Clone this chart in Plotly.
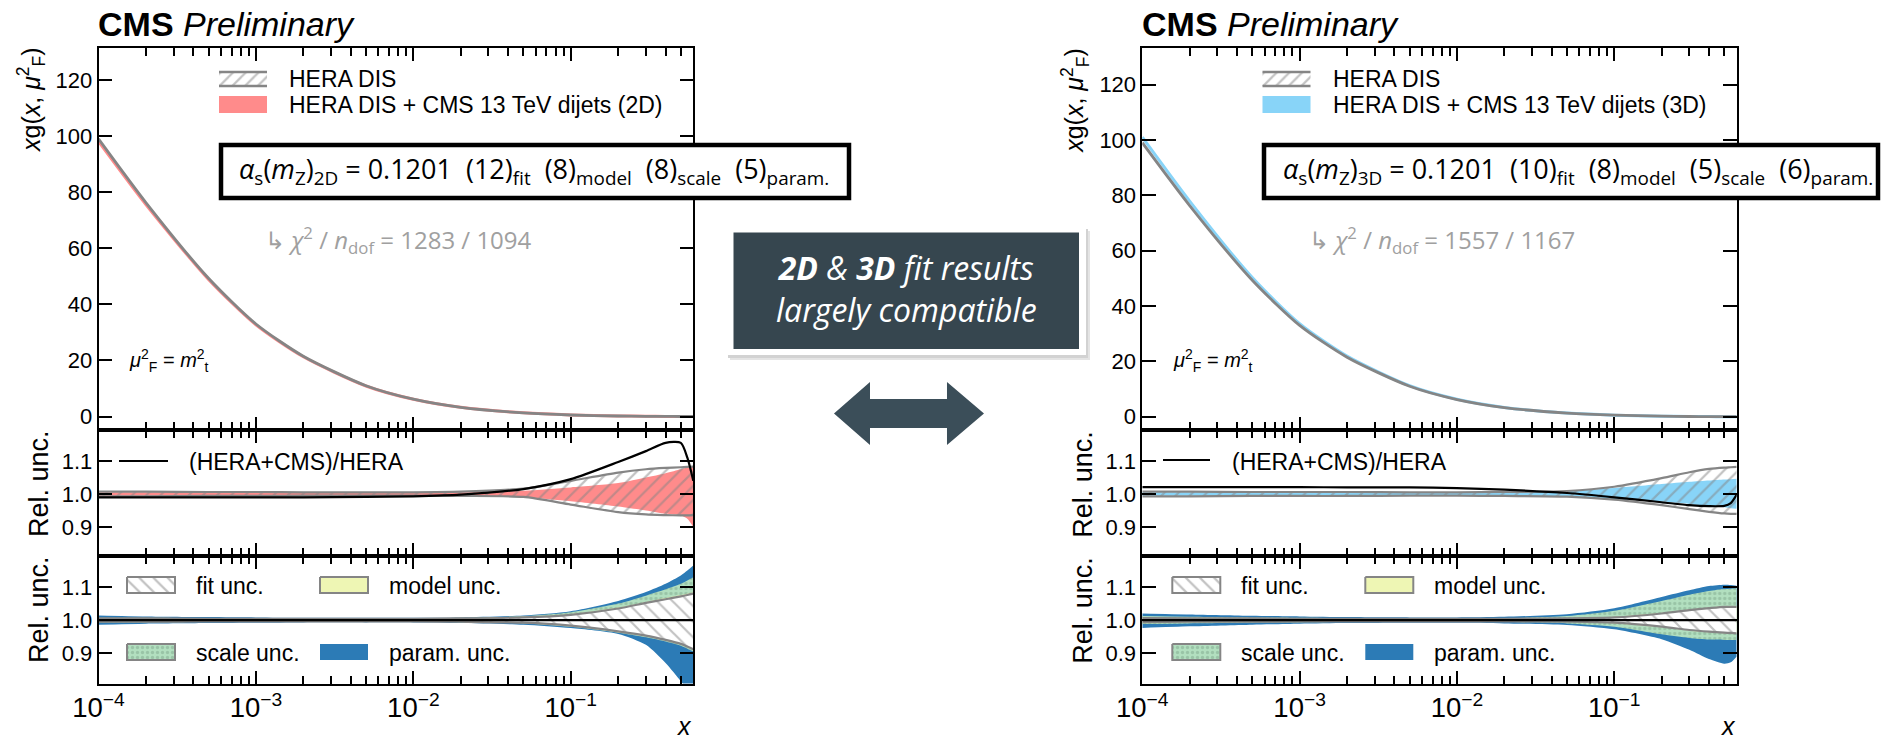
import math
import plotly.graph_objects as go

W, H = 1887, 740

# ---------------- data ----------------
x_vals = [1e-4, 2e-4, 5e-4, 1e-3, 2e-3, 5e-3, 1e-2, 2e-2, 5e-2, 0.1, 0.2, 0.3, 0.4, 0.5, 0.55, 0.6]

# upper panels: x g(x, muF^2)
xg_hera = [99.0, 76.3, 49.3, 33.0, 21.5, 11.0, 6.2, 3.3, 1.3, 0.55, 0.2, 0.08, 0.04, 0.02, 0.015, 0.01]
xg_comb_2d = [98.1, 75.6, 48.9, 32.7, 21.3, 10.9, 6.16, 3.29, 1.32, 0.57, 0.22, 0.09, 0.046, 0.023, 0.017, 0.01]
xg_comb_3d = [101.0, 77.9, 50.3, 33.6, 21.9, 11.2, 6.3, 3.34, 1.31, 0.54, 0.195, 0.077, 0.039, 0.019, 0.015, 0.01]

# middle panels (left = 2D, right = 3D)
hera_up_2d = [1.007, 1.007, 1.006, 1.006, 1.005, 1.005, 1.005, 1.007, 1.016, 1.040, 1.065, 1.075, 1.079, 1.081, 1.082, 1.083]
hera_dn_2d = [0.993, 0.993, 0.994, 0.994, 0.995, 0.995, 0.995, 0.994, 0.991, 0.968, 0.945, 0.938, 0.936, 0.935, 0.935, 0.936]
comb_up_2d = [1.005, 1.005, 1.005, 1.004, 1.004, 1.004, 1.004, 1.005, 1.010, 1.020, 1.033, 1.050, 1.063, 1.075, 1.080, 1.085]
comb_dn_2d = [0.995, 0.995, 0.995, 0.996, 0.996, 0.996, 0.996, 0.995, 0.990, 0.978, 0.962, 0.950, 0.940, 0.935, 0.925, 0.900]
ratio_2d = [0.990, 0.990, 0.990, 0.990, 0.990, 0.991, 0.993, 0.998, 1.015, 1.045, 1.097, 1.130, 1.155, 1.155, 1.110, 1.040]

hera_up_3d = [1.007, 1.007, 1.006, 1.006, 1.006, 1.005, 1.005, 1.006, 1.009, 1.022, 1.048, 1.066, 1.076, 1.080, 1.081, 1.082]
hera_dn_3d = [0.993, 0.993, 0.994, 0.994, 0.994, 0.995, 0.995, 0.994, 0.992, 0.983, 0.966, 0.954, 0.946, 0.941, 0.940, 0.940]
comb_up_3d = [1.005, 1.005, 1.005, 1.004, 1.004, 1.004, 1.004, 1.005, 1.008, 1.018, 1.030, 1.037, 1.041, 1.044, 1.045, 1.046]
comb_dn_3d = [0.995, 0.995, 0.995, 0.996, 0.996, 0.996, 0.996, 0.995, 0.992, 0.985, 0.977, 0.970, 0.964, 0.960, 0.957, 0.955]
ratio_3d = [1.021, 1.021, 1.021, 1.021, 1.020, 1.020, 1.018, 1.013, 1.003, 0.990, 0.975, 0.966, 0.963, 0.964, 0.972, 0.998]

# lower panels: uncertainty breakdown (outer edges of each layer)
fit_up_2d = [1.005, 1.005, 1.004, 1.004, 1.004, 1.004, 1.004, 1.005, 1.008, 1.016, 1.035, 1.052, 1.063, 1.072, 1.076, 1.080]
fit_dn_2d = [0.995, 0.995, 0.996, 0.996, 0.996, 0.996, 0.996, 0.995, 0.992, 0.983, 0.966, 0.953, 0.940, 0.928, 0.920, 0.912]
model_up_2d = [1.006, 1.006, 1.005, 1.005, 1.005, 1.005, 1.005, 1.006, 1.009, 1.018, 1.038, 1.055, 1.067, 1.076, 1.080, 1.084]
model_dn_2d = [0.994, 0.994, 0.995, 0.995, 0.995, 0.995, 0.995, 0.994, 0.991, 0.981, 0.964, 0.951, 0.938, 0.926, 0.918, 0.910]
scale_up_2d = [1.007, 1.007, 1.006, 1.006, 1.006, 1.006, 1.006, 1.007, 1.012, 1.024, 1.050, 1.074, 1.093, 1.110, 1.120, 1.130]
scale_dn_2d = [0.993, 0.993, 0.994, 0.994, 0.994, 0.994, 0.994, 0.993, 0.990, 0.980, 0.962, 0.948, 0.935, 0.922, 0.913, 0.905]
param_up_2d = [1.014, 1.011, 1.009, 1.008, 1.007, 1.007, 1.007, 1.008, 1.014, 1.027, 1.058, 1.085, 1.110, 1.135, 1.150, 1.165]
param_dn_2d = [0.986, 0.989, 0.991, 0.992, 0.993, 0.993, 0.993, 0.991, 0.986, 0.976, 0.958, 0.925, 0.870, 0.815, 0.790, 0.760]

fit_up_3d = [1.006, 1.005, 1.005, 1.004, 1.004, 1.004, 1.004, 1.004, 1.005, 1.008, 1.020, 1.030, 1.036, 1.040, 1.040, 1.040]
fit_dn_3d = [0.994, 0.995, 0.995, 0.996, 0.996, 0.996, 0.996, 0.996, 0.995, 0.992, 0.980, 0.970, 0.965, 0.962, 0.961, 0.960]
model_up_3d = [1.008, 1.007, 1.006, 1.005, 1.005, 1.005, 1.005, 1.005, 1.006, 1.010, 1.022, 1.032, 1.038, 1.042, 1.042, 1.042]
model_dn_3d = [0.992, 0.993, 0.994, 0.995, 0.995, 0.995, 0.995, 0.995, 0.994, 0.990, 0.978, 0.968, 0.963, 0.960, 0.959, 0.958]
scale_up_3d = [1.012, 1.010, 1.008, 1.007, 1.006, 1.005, 1.005, 1.006, 1.012, 1.028, 1.058, 1.077, 1.088, 1.094, 1.095, 1.096]
scale_dn_3d = [0.988, 0.990, 0.992, 0.993, 0.994, 0.995, 0.995, 0.994, 0.990, 0.980, 0.957, 0.946, 0.941, 0.940, 0.940, 0.940]
param_up_3d = [1.020, 1.017, 1.013, 1.011, 1.009, 1.008, 1.008, 1.010, 1.018, 1.036, 1.070, 1.090, 1.103, 1.107, 1.106, 1.104]
param_dn_3d = [0.976, 0.981, 0.986, 0.989, 0.991, 0.992, 0.992, 0.990, 0.985, 0.972, 0.942, 0.910, 0.882, 0.868, 0.872, 0.890]

x_tick_vals = [1e-4, 1e-3, 1e-2, 1e-1]
xg_ticks = [0, 20, 40, 60, 80, 100, 120]
rel_ticks = [0.9, 1.0, 1.1]
rel_tick_text = ["0.9", "1.0", "1.1"]

# ---------------- styling ----------------
FONT = "Liberation Sans, Arial, sans-serif"
FONT2 = "Open Sans, Liberation Sans, sans-serif"
RED = "#ff8b8b"
LBLUE = "#88d4f8"
GRAY = "#858585"
MODEL = "#eef6b4"
SCALE_BG = "#b2dfbf"
SCALE_FG = "#7fa98d"
PARAM = "#2c7bb6"

def px(x):
    return x / W

def py(y):
    return 1 - y / H

XL = [px(98.5), px(693.3)]
XR = [px(1142.3), px(1736.7)]
Y_UP = [py(430), py(48.3)]
Y_MID = [py(556), py(430)]
Y_LOW = [py(683.5), py(556)]

fig = go.Figure()

SPL = dict(shape="spline", smoothing=0.7)

def band(lo, hi, xa, ya, fillcolor="rgba(0,0,0,0)", pattern=None, edge=None, ew=2.0):
    lw = ew if edge else 0
    lc = edge if edge else "rgba(0,0,0,0)"
    fig.add_trace(go.Scatter(x=x_vals, y=lo, mode="lines", line=dict(color=lc, width=lw, **SPL),
                             xaxis=xa, yaxis=ya, showlegend=False, hoverinfo="skip"))
    kw = {}
    if pattern is not None:
        kw["fillpattern"] = pattern
    fig.add_trace(go.Scatter(x=x_vals, y=hi, mode="lines", fill="tonexty", fillcolor=fillcolor,
                             line=dict(color=lc, width=lw, **SPL),
                             xaxis=xa, yaxis=ya, showlegend=False, hoverinfo="skip", **kw))

def line(y, xa, ya, color, width):
    fig.add_trace(go.Scatter(x=x_vals, y=y, mode="lines", line=dict(color=color, width=width, **SPL),
                             xaxis=xa, yaxis=ya, showlegend=False, hoverinfo="skip"))

HATCH_T = dict(shape="/", fgcolor=GRAY, bgcolor="rgba(0,0,0,0)", size=10, solidity=0.22)
HATCH_FIT = dict(shape="\\", fgcolor=GRAY, bgcolor="white", size=11, solidity=0.2)
DOTS = dict(shape=".", fgcolor=SCALE_FG, bgcolor=SCALE_BG, size=5, solidity=0.35)

panels = [
    dict(sfx=("x", "y", "x2", "y2", "x3", "y3"), comb=xg_comb_2d, col=RED,
         hu=hera_up_2d, hd=hera_dn_2d, cu=comb_up_2d, cd=comb_dn_2d, r=ratio_2d,
         fu=fit_up_2d, fd=fit_dn_2d, mu=model_up_2d, md=model_dn_2d,
         su=scale_up_2d, sd=scale_dn_2d, pu=param_up_2d, pd=param_dn_2d),
    dict(sfx=("x4", "y4", "x5", "y5", "x6", "y6"), comb=xg_comb_3d, col=LBLUE,
         hu=hera_up_3d, hd=hera_dn_3d, cu=comb_up_3d, cd=comb_dn_3d, r=ratio_3d,
         fu=fit_up_3d, fd=fit_dn_3d, mu=model_up_3d, md=model_dn_3d,
         su=scale_up_3d, sd=scale_dn_3d, pu=param_up_3d, pd=param_dn_3d),
]

for p in panels:
    xa1, ya1, xa2, ya2, xa3, ya3 = p["sfx"]
    # upper
    line(p["comb"], xa1, ya1, p["col"], 3.0)
    line(xg_hera, xa1, ya1, GRAY, 2.8)
    # middle
    band(p["cd"], p["cu"], xa2, ya2, fillcolor=p["col"])
    band(p["hd"], p["hu"], xa2, ya2, pattern=HATCH_T, edge=GRAY, ew=2.2)
    line(p["r"], xa2, ya2, "black", 2.2)
    # lower
    band(p["pd"], p["pu"], xa3, ya3, fillcolor=PARAM)
    band(p["sd"], p["su"], xa3, ya3, pattern=DOTS, fillcolor=SCALE_BG)
    band(p["md"], p["mu"], xa3, ya3, fillcolor=MODEL)
    band(p["fd"], p["fu"], xa3, ya3, pattern=HATCH_FIT, fillcolor="white", edge=GRAY, ew=2.2)

# ---------------- legend swatches on an overlay pixel axis ----------------
def rect(x0, y0, x1, y1, fillcolor, pattern=None, lc=None, lw=0):
    kw = {}
    if pattern is not None:
        kw["fillpattern"] = pattern
    fig.add_trace(go.Scatter(x=[x0, x1, x1, x0, x0], y=[y0, y0, y1, y1, y0], mode="lines",
                             fill="toself", fillcolor=fillcolor,
                             line=dict(color=lc or "rgba(0,0,0,0)", width=lw),
                             xaxis="x7", yaxis="y7", showlegend=False, hoverinfo="skip", **kw))

def seg(xs, ys, color, width):
    fig.add_trace(go.Scatter(x=xs, y=ys, mode="lines", line=dict(color=color, width=width),
                             xaxis="x7", yaxis="y7", showlegend=False, hoverinfo="skip"))

for ox, col in ((0, RED), (1043.5, LBLUE)):
    rect(219 + ox, 72, 267 + ox, 86, "white", pattern=dict(shape="/", fgcolor=GRAY, bgcolor="white", size=9, solidity=0.25))
    seg([219 + ox, 267 + ox, None, 219 + ox, 267 + ox], [72, 72, None, 86, 86], GRAY, 2.5)
    rect(219 + ox, 96, 267 + ox, 113, col)

seg([119, 168], [461, 461], "black", 2.2)
seg([1163, 1210], [460, 460], "black", 2.2)

for ox in (0, 1045.3):
    rect(127 + ox, 577, 175 + ox, 593, "white", pattern=dict(shape="\\", fgcolor=GRAY, bgcolor="white", size=10, solidity=0.22), lc=GRAY, lw=2)
    rect(320 + ox, 577, 368 + ox, 593, MODEL, lc=GRAY, lw=2)
    rect(127 + ox, 644, 175 + ox, 660, SCALE_BG, pattern=DOTS, lc=GRAY, lw=2)
    rect(320 + ox, 644, 368 + ox, 660, PARAM)

# ---------------- axes ----------------
xr = [math.log10(1e-4), math.log10(0.6)]

def xaxis(dom, anchor, labels):
    return dict(domain=dom, anchor=anchor, type="log", range=xr, dtick=1, tick0=0,
                showticklabels=labels, exponentformat="power",
                ticks="inside", ticklen=13, tickwidth=1.5, tickcolor="black",
                minor=dict(ticks="inside", ticklen=8, tickwidth=1.5, tickcolor="black", dtick="D1", showgrid=False),
                showline=True, linecolor="black", linewidth=1.6, mirror="ticks",
                showgrid=False, zeroline=False,
                tickfont=dict(family=FONT, size=22, color="black"))

def yaxis(dom, anchor, rng, tv, tt=None):
    d = dict(domain=dom, anchor=anchor, range=rng, tickvals=tv,
             ticks="inside", ticklen=14, tickwidth=1.5, tickcolor="black",
             showline=True, linecolor="black", linewidth=1.6, mirror="ticks",
             showgrid=False, zeroline=False,
             tickfont=dict(family=FONT, size=22, color="black"))
    if tt is not None:
        d["ticktext"] = tt
    return d

layout = dict(
    width=W, height=H, margin=dict(l=0, r=0, t=0, b=0, autoexpand=False),
    paper_bgcolor="white", plot_bgcolor="rgba(0,0,0,0)", showlegend=False,
    xaxis=xaxis(XL, "y", False), yaxis=yaxis(Y_UP, "x", [-4.8, 131.3], xg_ticks),
    xaxis2=xaxis(XL, "y2", False), yaxis2=yaxis(Y_MID, "x2", [0.812, 1.194], rel_ticks, rel_tick_text),
    xaxis3=xaxis(XL, "y3", True), yaxis3=yaxis(Y_LOW, "x3", [0.808, 1.194], rel_ticks, rel_tick_text),
    xaxis4=xaxis(XR, "y4", False), yaxis4=yaxis(Y_UP, "x4", [-4.8, 133.1], xg_ticks),
    xaxis5=xaxis(XR, "y5", False), yaxis5=yaxis(Y_MID, "x5", [0.812, 1.194], rel_ticks, rel_tick_text),
    xaxis6=xaxis(XR, "y6", True), yaxis6=yaxis(Y_LOW, "x6", [0.808, 1.194], rel_ticks, rel_tick_text),
    xaxis7=dict(domain=[0, 1], anchor="y7", range=[0, W], visible=False, fixedrange=True),
    yaxis7=dict(domain=[0, 1], anchor="x7", range=[H, 0], visible=False, fixedrange=True),
)
fig.update_layout(**layout)

# ---------------- shapes ----------------
shapes = []
for xa, ya in (("x3", "y3"), ("x6", "y6")):
    shapes.append(dict(type="line", xref=xa + " domain", yref=ya, x0=0, x1=1, y0=1.0, y1=1.0,
                       line=dict(color="black", width=2.2), layer="above"))

def prect(x0, y0, x1, y1, fill, lc=None, lw=0):
    return dict(type="rect", xref="paper", yref="paper", x0=px(x0), x1=px(x1), y0=py(y1), y1=py(y0),
                fillcolor=fill, line=dict(color=lc or "rgba(0,0,0,0)", width=lw), layer="above")

shapes.append(prect(221, 145, 849, 198, "white", "black", 4.5))
shapes.append(prect(1264, 145, 1878, 198, "white", "black", 4.5))
# central message box (with soft shadow)
shapes.append(prect(730, 231, 1090, 360, "#e4e4e4"))
shapes.append(prect(728, 229, 1088, 358, "#d2d2d2"))
shapes.append(prect(726, 226, 1086, 355, "white"))
shapes.append(prect(733.5, 232.5, 1079, 349, "#36464f"))
# double arrow
pts = [(834, 413.5), (870, 382), (870, 399), (947, 399), (947, 382), (984, 413.5),
       (947, 445), (947, 428), (870, 428), (870, 445)]
path = "M " + " L ".join(f"{px(a):.5f},{py(b):.5f}" for a, b in pts) + " Z"
shapes.append(dict(type="path", xref="paper", yref="paper", path=path, fillcolor="#3b4e59",
                   line=dict(width=0), layer="above"))
fig.update_layout(shapes=shapes)

# ---------------- annotations ----------------
anns = []

def ann(text, x, y, size, family=FONT, xanchor="left", yanchor="middle", color="black", angle=0):
    anns.append(dict(text=text, x=px(x), y=py(y), xref="paper", yref="paper", showarrow=False,
                     xanchor=xanchor, yanchor=yanchor, textangle=angle,
                     font=dict(family=family, size=size, color=color)))

SP = "\u00a0\u00a0"
for ox, tag, fit, model, scale, param, chi in ((0, "2D", "12", "8", "8", "5", "1283 / 1094"),
                                              (1043.8, "3D", "10", "8", "5", "6", "1557 / 1167")):
    ann("<b>CMS</b> <i>Preliminary</i>", 96 + ox, 24, 34)
    ann(f"<i>x</i>g(<i>x</i>, <i>μ</i><sup>2</sup><sub>F</sub>)", 31 + ox, 100, 25, angle=-90, xanchor="center")
    ann("Rel. unc.", 39 + ox, 484, 27, angle=-90, xanchor="center")
    ann("Rel. unc.", 39 + ox, 610, 27, angle=-90, xanchor="center")
    ann("<i>x</i>", 694 + ox, 726, 25, xanchor="right")
    ann("HERA DIS", 287 + ox, 79, 23)
    ann(f"HERA DIS + CMS 13 TeV dijets ({tag})", 287 + ox, 105, 23)
    ann(f"<i>α</i><sub>s</sub>(<i>m</i><sub>Z</sub>)<sub>{tag}</sub> = 0.1201{SP}({fit})<sub>fit</sub>{SP}({model})<sub>model</sub>{SP}({scale})<sub>scale</sub>{SP}({param})<sub>param.</sub>",
        237 + ox, 171, 27, family=FONT2)
    ann(f"↳ <i>χ</i><sup>2</sup> / <i>n</i><sub>dof</sub> = {chi}", 263 + ox, 240, 24, family=FONT2, color="#a0a0a0")
    ann("<i>μ</i><sup>2</sup><sub>F</sub> = <i>m</i><sup>2</sup><sub>t</sub>", 127 + ox, 360, 20)

ann("(HERA+CMS)/HERA", 187, 462, 23)
ann("(HERA+CMS)/HERA", 1230, 462, 23)
for ox in (0, 1045.3):
    ann("fit unc.", 194 + ox, 586, 23)
    ann("model unc.", 387 + ox, 586, 23)
    ann("scale unc.", 194 + ox, 653, 23)
    ann("param. unc.", 387 + ox, 653, 23)

ann("<b><i>2D</i></b><i> &amp; </i><b><i>3D</i></b><i> fit results</i><br><i>largely compatible</i>",
    906, 288, 32, family=FONT2, xanchor="center", color="white")

fig.update_layout(annotations=anns)

fig.write_html("out.html")
